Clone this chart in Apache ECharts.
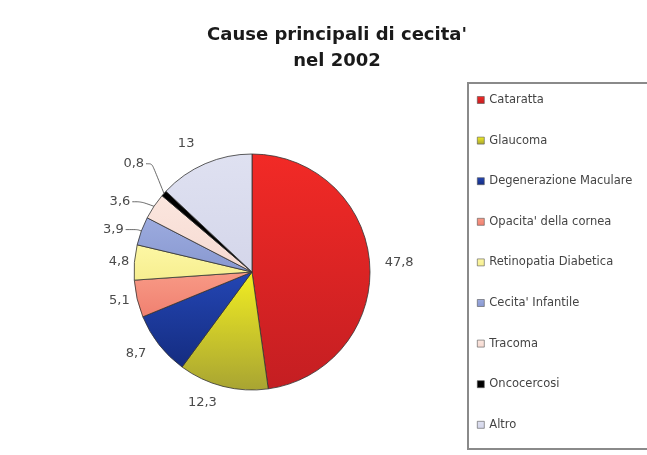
<!DOCTYPE html>
<html><head><meta charset="utf-8">
<script src="https://cdn.jsdelivr.net/npm/echarts@6/dist/echarts.min.js"></script>
<style>html,body{margin:0;padding:0;background:#fff}#c{width:647px;height:455px}</style>
</head><body><div id="c"></div>
<script>
const categories = ["Cataratta","Glaucoma","Degenerazione Maculare","Opacita' della cornea","Retinopatia Diabetica","Cecita' Infantile","Tracoma","Oncocercosi","Altro"];
const values = [47.8, 12.3, 8.7, 5.1, 4.8, 3.9, 3.6, 0.8, 13];
const topColors = ["#f22a26","#f2ee22","#2446b4","#f89a86","#fdf7a4","#9cabdf","#fbe6de","#000000","#dfe1f1"];
const bottomColors = ["#c41e22","#a8a432","#142c80","#f08070","#f6ee90","#8898d0","#f6dad2","#000000","#d4d6ea"];
// label leader styling per slice: [radial length, horizontal length, show line]
const leaderStyle = {
  "Cataratta": [13, 0, false],
  "Glaucoma": [17, 0, false],
  "Degenerazione Maculare": [14, 0, false],
  "Opacita' della cornea": [7, 0, false],
  "Retinopatia Diabetica": [5, 0, false],
  "Cecita' Infantile": [4, 12, true],
  "Tracoma": [12, 9, true],
  "Oncocercosi": [10, 6, true],
  "Altro": [22, 0, false]
};
const labelShiftY = {"Oncocercosi": -23};

const chart = echarts.init(document.getElementById('c'));
const data = categories.map((name, i) => ({
  name: name,
  value: values[i],
  itemStyle: {
    color: new echarts.graphic.LinearGradient(0, 0, 0, 1, [
      {offset: 0, color: topColors[i]}, {offset: 1, color: bottomColors[i]}
    ])
  },
  labelLine: {
    show: leaderStyle[name][2],
    length: leaderStyle[name][0],
    length2: leaderStyle[name][1]
  }
}));
chart.setOption({
  animation: false,
  title: {
    text: "Cause principali di cecita'\nnel 2002",
    left: 332, top: 17, textAlign: 'center',
    textStyle: {fontFamily: 'DejaVu Sans', fontWeight: 'bold', fontSize: 18, lineHeight: 26, color: '#1a1a1a'}
  },
  graphic: [{
    type: 'rect', shape: {x: 468, y: 83, width: 200, height: 366},
    style: {fill: '#fff', stroke: '#8a8a8a', lineWidth: 2}, z: -1
  }],
  legend: {
    orient: 'vertical', left: 472, top: 89,
    itemWidth: 7, itemHeight: 7, itemGap: 28.6, icon: 'rect',
    textStyle: {fontFamily: 'DejaVu Sans', fontSize: 11.5, color: '#444', lineHeight: 12},
    itemStyle: {borderColor: '#555', borderWidth: 0.6},
    data: categories
  },
  series: [{
    type: 'pie',
    center: [252, 272], radius: 118,
    startAngle: 90, clockwise: true,
    data: data,
    itemStyle: {borderColor: '#333', borderWidth: 0.8},
    label: {
      show: true, position: 'outside',
      fontFamily: 'DejaVu Sans', fontSize: 13, color: '#4a4a4a',
      formatter: p => String(p.value).replace('.', ','),
      distanceToLabelLine: 2
    },
    labelLine: {smooth: 0.3, lineStyle: {color: '#444', width: 0.8}},
    labelLayout: function (params) {
      const dy = labelShiftY[categories[params.dataIndex]];
      if (!dy) return {};
      const pts = params.labelLinePoints;
      const out = {dy: dy};
      if (pts && pts.length === 3) {
        out.labelLinePoints = [
          [pts[0][0], pts[0][1]],
          [pts[1][0], pts[1][1] + dy],
          [pts[2][0], pts[2][1] + dy]
        ];
      }
      return out;
    },
    emphasis: {disabled: true}
  }]
});
</script></body></html>
